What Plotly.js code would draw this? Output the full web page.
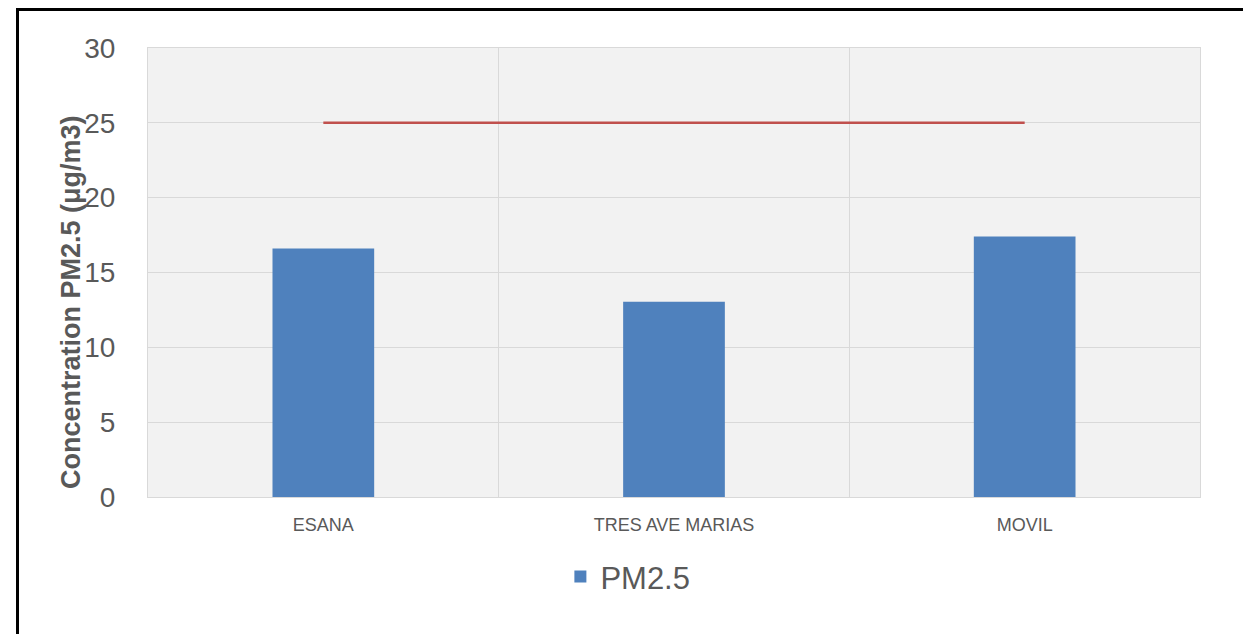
<!DOCTYPE html>
<html>
<head>
<meta charset="utf-8">
<script src="https://cdn.plot.ly/plotly-3.0.1.min.js"></script>
<style>
  html, body { margin: 0; padding: 0; background: #ffffff; overflow: hidden; }
  #wrap { position: relative; width: 1243px; height: 634px; overflow: hidden; }
  #chart { width: 1243px; height: 634px; }
  #frame { position: absolute; left: 16px; top: 8px; width: 1400px; height: 800px;
           border-left: 3px solid #000; border-top: 3px solid #000; pointer-events: none; }
</style>
</head>
<body>
<div id="wrap">
  <div id="chart"></div>
  <div id="frame"></div>
</div>
<script>
const categories = ["ESANA", "TRES AVE MARIAS", "MOVIL"];
const pm25Values = [16.6, 13.05, 17.4];
const limitValues = [25, 25, 25];
const yTickValues = [0, 5, 10, 15, 20, 25, 30];
const seriesName = "PM2.5";
const yTitle = "Concentration PM2.5 (μg/m3)";

const font = "Liberation Sans, Arial, sans-serif";

const traces = [
  {
    type: "bar",
    x: categories,
    y: pm25Values,
    name: seriesName,
    marker: { color: "#4f81bd" },
    hoverinfo: "x+y"
  },
  {
    type: "scatter",
    mode: "lines",
    x: categories,
    y: limitValues,
    line: { color: "#c0504d", width: 2.5 },
    showlegend: false,
    hoverinfo: "y"
  }
];

const layout = {
  width: 1243,
  height: 634,
  margin: { l: 148, r: 43, t: 48, b: 137 },
  paper_bgcolor: "#ffffff",
  plot_bgcolor: "#f2f2f2",
  bargap: 0.71,
  font: { family: font, color: "#595959" },
  xaxis: {
    type: "category",
    tickson: "boundaries",
    showgrid: true,
    gridcolor: "#d9d9d9",
    gridwidth: 1,
    ticks: "",
    showline: true,
    mirror: true,
    linecolor: "#d9d9d9",
    linewidth: 1,
    tickfont: { family: font, size: 18, color: "#595959" },
    ticklabelstandoff: 11,
    zeroline: false
  },
  yaxis: {
    range: [0, 30],
    tickvals: yTickValues,
    ticktext: yTickValues.map(String),
    showgrid: true,
    gridcolor: "#d9d9d9",
    gridwidth: 1,
    ticks: "",
    showline: true,
    mirror: true,
    linecolor: "#d9d9d9",
    linewidth: 1,
    zeroline: false,
    tickfont: { family: font, size: 28, color: "#595959" },
    ticklabelstandoff: 26
  },
  legend: {
    orientation: "h",
    x: 0.392,
    xanchor: "left",
    y: -0.178,
    yanchor: "middle",
    font: { family: font, size: 31, color: "#595959" },
    bgcolor: "rgba(0,0,0,0)"
  },
  annotations: [
    {
      text: yTitle,
      xref: "paper",
      yref: "paper",
      x: (71 - 148) / 1052,
      y: (497 - 302) / 449,
      xanchor: "center",
      yanchor: "middle",
      textangle: -90,
      showarrow: false,
      font: { family: font, size: 27, color: "#595959", weight: "bold" }
    }
  ],
  showlegend: true
};

Plotly.newPlot("chart", traces, layout, { displayModeBar: false, staticPlot: true });
</script>
</body>
</html>
